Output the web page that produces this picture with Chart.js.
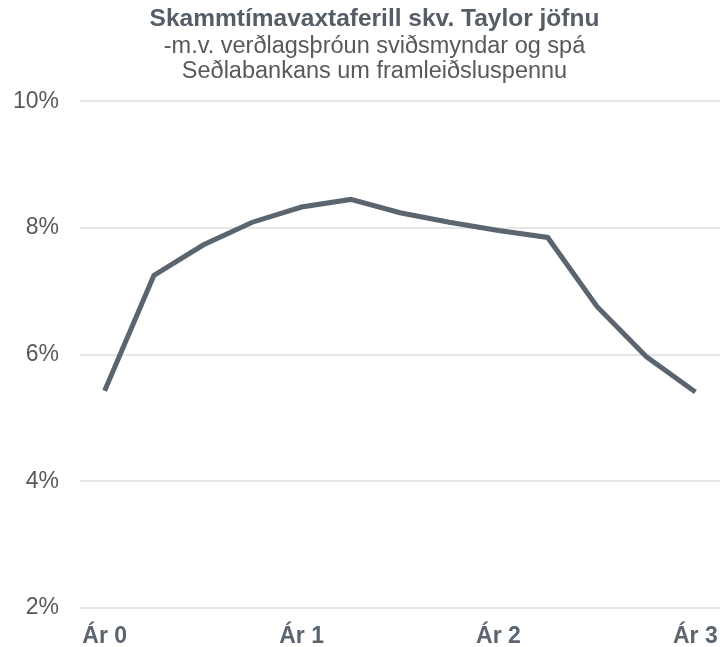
<!DOCTYPE html>
<html>
<head>
<meta charset="utf-8">
<script src="https://cdn.jsdelivr.net/npm/chart.js@4.4.1/dist/chart.umd.min.js"></script>
<style>
  html, body { margin: 0; padding: 0; background: #fff; overflow: hidden; }
  #taylorChart { display: block; }
</style>
</head>
<body>
<canvas id="taylorChart" width="720" height="647"></canvas>
<script>
// Ársfjórðungar frá Ár 0 til Ár 3
const quarters = ['Ár 0', '', '', '', 'Ár 1', '', '', '', 'Ár 2', '', '', '', 'Ár 3'];
// Skammtímavextir skv. Taylor jöfnu (%)
const taylorRate = [5.43, 7.25, 7.73, 8.09, 8.33, 8.45, 8.24, 8.09, 7.96, 7.85, 6.76, 5.97, 5.41];
const yTicks = [2, 4, 6, 8, 10];

const titleLines = ['Skammtímavaxtaferill skv. Taylor jöfnu'];
const subtitleLines = ['-m.v. verðlagsþróun sviðsmyndar og spá', 'Seðlabankans um framleiðsluspennu'];

const textGray = '#595959';
const lineGray = '#5b6570';
const fontFam = 'Liberation Sans, Arial, sans-serif';

// title block sits a bit right of the canvas centre in the original
const shiftTitles = {
    id: 'shiftTitles',
    afterLayout(chart) {
        chart.boxes.forEach(b => {
            if (!b.axis && b.options && b.options.text !== undefined) {
                b.left += 8;
                b.right += 8;
            }
        });
    }
};

const ctx = document.getElementById('taylorChart').getContext('2d');
new Chart(ctx, {
    type: 'line',
    data: {
        labels: quarters,
        datasets: [{
            data: taylorRate,
            borderColor: lineGray,
            borderWidth: 5,
            pointRadius: 0,
            tension: 0,
            fill: false
        }]
    },
    plugins: [shiftTitles],
    options: {
        responsive: false,
        animation: false,
        layout: { padding: { left: 13, right: 0, top: 6, bottom: 0 } },
        plugins: {
            legend: { display: false },
            tooltip: { enabled: false },
            title: {
                display: true,
                text: titleLines,
                color: '#555d66',
                font: { family: fontFam, size: 24.5, weight: 'bold', lineHeight: 1.1 },
                padding: { top: 0, bottom: 1 }
            },
            subtitle: {
                display: true,
                text: subtitleLines,
                color: textGray,
                font: { family: fontFam, size: 23.5, lineHeight: 1.07 },
                padding: { top: 0, bottom: 17 }
            }
        },
        scales: {
            x: {
                offset: true,
                grid: { display: false, drawTicks: false },
                border: { display: false },
                // chart runs to the right edge; padding counted only once
                afterFit: axis => {
                    axis.paddingLeft = 0;
                    axis.paddingRight = 0;
                    axis.height -= axis.options.ticks.padding;
                },
                ticks: {
                    autoSkip: false,
                    maxRotation: 0,
                    padding: 19,
                    color: lineGray,
                    font: { family: fontFam, size: 23, weight: 'bold', lineHeight: 0.87 },
                    callback: (v, i) => quarters[i]
                }
            },
            y: {
                min: 2,
                max: 10,
                afterBuildTicks: axis => { axis.ticks = yTicks.map(v => ({ value: v })); },
                afterFit: axis => { axis.width -= axis.options.ticks.padding; },
                grid: { color: '#e6e6e6', lineWidth: 2, drawTicks: false },
                border: { display: false },
                ticks: {
                    padding: 21,
                    color: textGray,
                    font: { family: fontFam, size: 23 },
                    callback: v => v + '%'
                }
            }
        }
    }
});
</script>
</body>
</html>
